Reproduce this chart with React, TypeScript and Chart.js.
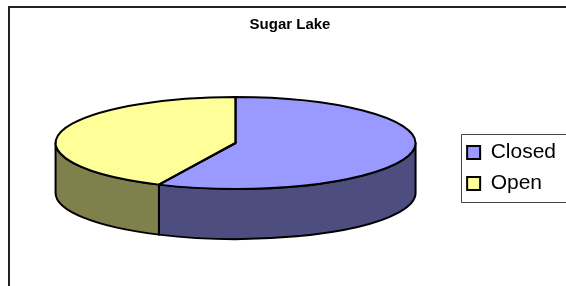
import React, { useEffect, useRef } from "react";
import { Chart, registerables } from "chart.js";

Chart.register(...registerables);

const chartTitle = "Sugar Lake";
const categories = ["Closed", "Open"];
const values = [57, 43];
const topColors = ["#9999FF", "#FFFF99"];
const sideColors = ["#4D4D80", "#80804D"];

const FONT = "'Liberation Sans', Arial, Helvetica, sans-serif";

const framePlugin = {
  id: "frame",
  beforeDraw(chart: any) {
    const ctx = chart.ctx;
    ctx.save();
    ctx.strokeStyle = "#222";
    ctx.lineWidth = 2;
    ctx.beginPath();
    ctx.moveTo(9, chart.height + 10);
    ctx.lineTo(9, 7);
    ctx.lineTo(chart.width + 10, 7);
    ctx.stroke();
    ctx.restore();
  },
  afterDraw(chart: any) {
    const hb = chart.legend && chart.legend.legendHitBoxes;
    if (!hb || !hb.length) return;
    const first = hb[0];
    const last = hb[hb.length - 1];
    const left = Math.round(first.left - 6) + 0.5;
    const top = Math.round(first.top - 8) + 0.5;
    const bottom = Math.round(last.top + last.height + 8) + 0.5;
    const ctx = chart.ctx;
    ctx.save();
    ctx.strokeStyle = "#444";
    ctx.lineWidth = 1;
    ctx.beginPath();
    ctx.moveTo(chart.width + 10, top);
    ctx.lineTo(left, top);
    ctx.lineTo(left, bottom);
    ctx.lineTo(chart.width + 10, bottom);
    ctx.stroke();
    ctx.restore();
  },
};

const pie3dPlugin = {
  id: "pie3d",
  beforeDatasetsDraw(chart: any, _args: any, opts: any) {
    chart.$pie3d = null;
    const meta = chart.getDatasetMeta(0);
    const arcs = meta.data;
    if (!arcs || !arcs.length) return;
    const area = chart.chartArea;
    const depth = opts.depth;
    const ry = (area.bottom - area.top - depth) / 2;
    const rx = ry / opts.tilt;
    const cx = arcs[0].x;
    const cy = area.top + ry;
    const ctx = chart.ctx;
    ctx.save();
    ctx.lineWidth = opts.lineWidth;
    ctx.strokeStyle = opts.lineColor;
    ctx.lineJoin = "round";
    arcs.forEach((arc: any, i: number) => {
      const s = arc.startAngle;
      const e = arc.endAngle;
      for (let k = -1; k <= 2; k++) {
        const lo = Math.max(s, 2 * Math.PI * k);
        const hi = Math.min(e, 2 * Math.PI * k + Math.PI);
        if (hi - lo <= 1e-6) continue;
        ctx.beginPath();
        ctx.ellipse(cx, cy, rx, ry, 0, lo, hi, false);
        ctx.lineTo(cx + rx * Math.cos(hi), cy + depth + ry * Math.sin(hi));
        ctx.ellipse(cx, cy + depth, rx, ry, 0, hi, lo, true);
        ctx.closePath();
        ctx.fillStyle = sideColors[i % sideColors.length];
        ctx.fill();
        ctx.stroke();
      }
    });
    ctx.restore();
    const r = arcs[0].outerRadius;
    ctx.save();
    ctx.translate(cx, cy);
    ctx.scale(rx / r, ry / r);
    ctx.translate(-cx, -arcs[0].y);
    chart.$pie3d = { cx, cy, rx, ry };
  },
  afterDatasetsDraw(chart: any, _args: any, opts: any) {
    const g = chart.$pie3d;
    if (!g) return;
    const ctx = chart.ctx;
    ctx.restore();
    const arcs = chart.getDatasetMeta(0).data;
    ctx.save();
    ctx.lineWidth = opts.lineWidth;
    ctx.strokeStyle = opts.lineColor;
    ctx.lineJoin = "round";
    arcs.forEach((arc: any) => {
      ctx.beginPath();
      ctx.moveTo(g.cx, g.cy);
      ctx.ellipse(g.cx, g.cy, g.rx, g.ry, 0, arc.startAngle, arc.endAngle, false);
      ctx.closePath();
      ctx.stroke();
    });
    ctx.restore();
    chart.$pie3d = null;
  },
};

export default function App() {
  const canvasRef = useRef<HTMLCanvasElement | null>(null);

  useEffect(() => {
    const canvas = canvasRef.current;
    if (!canvas) return;
    const chart = new Chart(canvas, {
      type: "pie",
      data: {
        labels: categories,
        datasets: [
          {
            data: values,
            backgroundColor: topColors,
            borderWidth: 0,
            clip: false as any,
          } as any,
        ],
      },
      options: {
        responsive: false,
        animation: false,
        devicePixelRatio: 1,
        layout: { padding: { left: 14, right: 0, top: 0, bottom: 47 } },
        plugins: {
          title: {
            display: true,
            text: chartTitle,
            color: "#000",
            font: { family: FONT, size: 15, weight: "bold" },
            padding: { top: 16, bottom: 63 },
          },
          legend: {
            display: true,
            position: "right",
            fullSize: false,
            labels: {
              color: "#000",
              font: { family: FONT, size: 21 },
              boxWidth: 13,
              boxHeight: 13,
              padding: 10,
              generateLabels: (c: any) => {
                const base = (Chart as any).overrides.pie.plugins.legend.labels.generateLabels(c);
                return base.map((it: any) => ({ ...it, strokeStyle: "#000", lineWidth: 2 }));
              },
            },
          },
          tooltip: { enabled: false },
          pie3d: { depth: 50, tilt: 46 / 180, lineWidth: 2, lineColor: "#000" },
        } as any,
      },
      plugins: [framePlugin, pie3dPlugin],
    });
    return () => chart.destroy();
  }, []);

  return (
    <div style={{ position: "absolute", left: 0, top: 0, width: 566, height: 286, background: "#fff" }}>
      <canvas ref={canvasRef} width={566} height={286} style={{ display: "block" }} />
    </div>
  );
}
